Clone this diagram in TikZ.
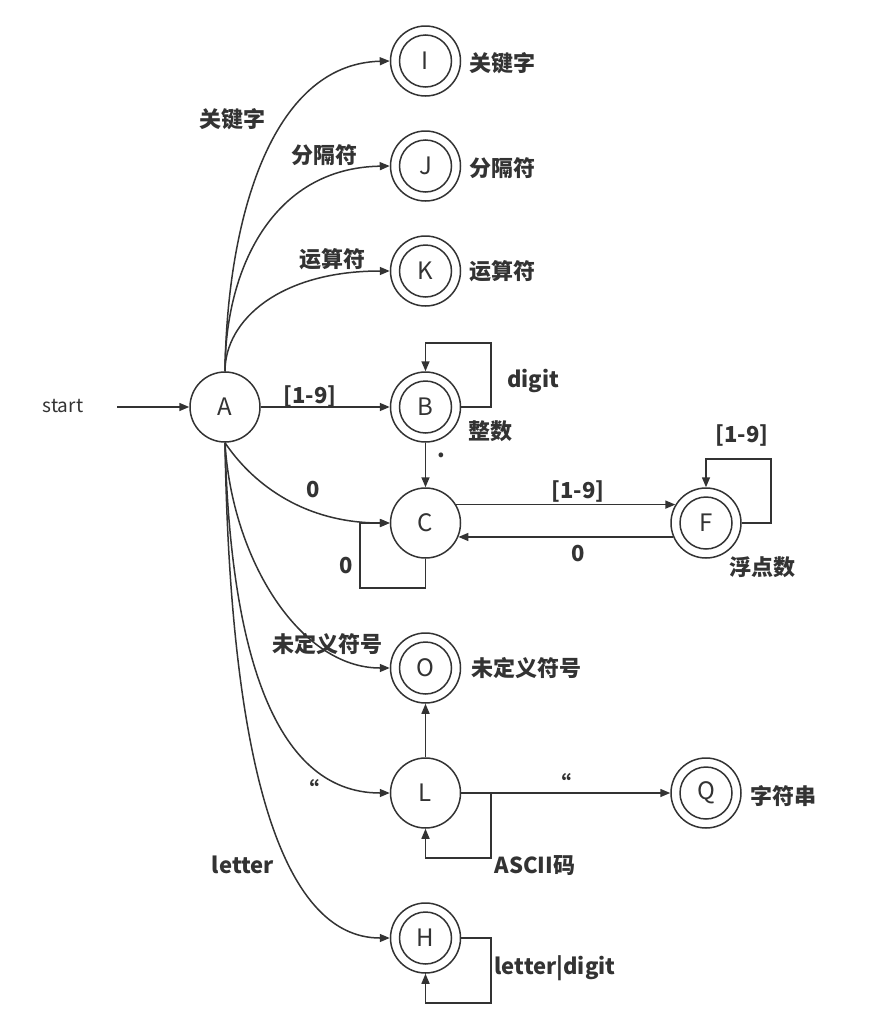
\documentclass[tikz,border=0pt]{standalone}
\usepackage{fontspec}
\setmainfont{Noto Sans CJK SC}
\usetikzlibrary{arrows.meta}
\definecolor{ink}{HTML}{333333}
\tikzset{
  st/.style={circle, draw=ink, line width=1.5pt, minimum size=70pt, inner sep=0pt,
    font=\fontsize{24}{24}\selectfont, text=ink},
  acc/.style={st, path picture={\draw[ink, line width=1.5pt] (path picture bounding box.center) circle (26pt);}},
  lab/.style={font=\bfseries\fontsize{22}{22}\selectfont, text=ink, inner sep=0pt},
  plain/.style={font=\fontsize{19}{19}\selectfont, text=ink, inner sep=0pt},
  edge/.style={draw=ink, line width=1.5pt, -{Triangle[length=10pt,width=8pt]}},
}
\begin{document}
\begin{tikzpicture}[x=1pt,y=-1pt]
\useasboundingbox[fill=white] (0,0) rectangle (875,1028);
% states
\node[st]  (A) at (225,407) {A};
\node[acc] (I) at (425.5,61) {I};
\node[acc] (J) at (425.5,166) {J};
\node[acc] (K) at (425.5,271) {K};
\node[acc] (B) at (425.5,407) {B};
\node[st]  (C) at (425.5,523) {C};
\node[acc] (F) at (706,523) {F};
\node[acc] (O) at (425.5,668) {O};
\node[st]  (L) at (425.5,793) {L};
\node[acc] (Q) at (706,793) {Q};
\node[acc] (H) at (425.5,938) {H};
% start
\node[plain] (s) at (63,406) {start};
\coordinate (s0) at (117,407);
\draw[edge] (s0) -- (A);
% curves from A
\draw[edge] (A.north) .. controls (227,222) and (270,64) .. (I.west);
\draw[edge] (A.north) .. controls (225,270) and (272,168) .. (J.west);
\draw[edge] (A.north) .. controls (225,320) and (280,271) .. (K.west);
\draw[edge] (A) -- (B);
\draw[edge] (A.south) .. controls (250,480) and (300,523) .. (C.west);
\draw[edge] (A.south) .. controls (232,560) and (300,668) .. (O.west);
\draw[edge] (A.south) .. controls (230,640) and (270,793) .. (L.west);
\draw[edge] (A.south) .. controls (230,760) and (280,938) .. (H.west);
% B
\draw[edge] (B.east) -- (491,407) -- (491,343) -- (425.5,343) -- (B.north);
\draw[edge] (B) -- (C);
% C, F
\draw[edge] (C.31) -- (F.149);
\draw[edge] (F.203) -- (C.-23);
\draw[edge] (F.east) -- (771,523) -- (771,459) -- (706,459) -- (F.north);
\draw[edge] (C.south) -- (425.5,588) -- (360,588) -- (360,523) -- (C.west);
% L
\draw[edge] (L) -- (O);
\draw[edge] (L) -- (Q);
\draw[edge] (L.east) -- (491,793) -- (491,858) -- (425.5,858) -- (L.south);
% H
\draw[edge] (H.east) -- (491,938) -- (491,1003) -- (425.5,1003) -- (H.south);
% labels
\node[lab] (l1) at (232,119) {关键字};
\node[lab] (l2) at (324,155) {分隔符};
\node[lab] (l3) at (332,259) {运算符};
\node[lab] (r1) at (502,63) {关键字};
\node[lab] (r2) at (502,168) {分隔符};
\node[lab] (r3) at (502,271) {运算符};
\node[lab] (l4) at (310,396) {[1-9]};
\node[lab] (l5) at (533,381) {digit};
\node[lab] (l6) at (490,431) {整数};
\node[lab] (l7) at (441,455) {.};
\node[lab] (l8) at (313,490) {0};
\node[lab] (l9) at (346,566) {0};
\node[lab] (l10) at (578,491) {[1-9]};
\node[lab] (l11) at (578,554) {0};
\node[lab] (l12) at (742,435) {[1-9]};
\node[lab] (l13) at (762,567) {浮点数};
\node[lab] (l14) at (327,644) {未定义符号};
\node[lab] (l15) at (526,668) {未定义符号};
\node[lab] (l16) at (308,789) {“};
\node[lab] (l17) at (560,783) {“};
\node[lab] (l18) at (243,865) {letter};
\node[lab] (l19) at (535,866) {ASCII码};
\node[lab] (l20) at (783,796) {字符串};
\node[lab] (l21) at (555,968) {letter|digit};
\end{tikzpicture}
\end{document}
